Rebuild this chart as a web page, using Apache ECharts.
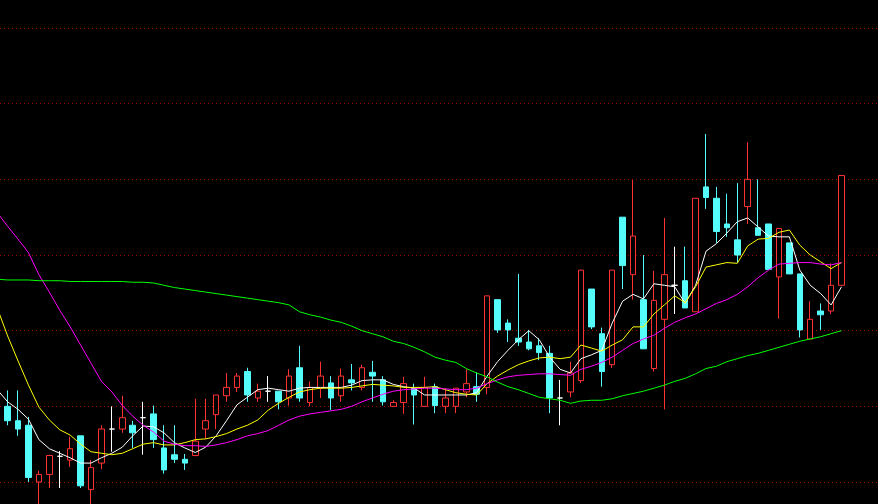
<!DOCTYPE html>
<html>
<head>
<meta charset="utf-8">
<script src="https://cdn.jsdelivr.net/npm/echarts@6/dist/echarts.min.js"></script>
<style>
html,body{margin:0;padding:0;background:#000;overflow:hidden;width:878px;height:504px;}
#chart{position:absolute;left:-8px;top:0;width:886px;height:504px;}
</style>
</head>
<body>
<div id="chart"></div>
<script>
const opens = [
23.1,20.0,18.1,17.5,10.0,11.0,13.4,12.9,16.1,9.0,
12.5,17.0,17.0,17.5,18.5,19.0,14.5,13.6,13.0,13.5,
17.0,18.9,21.4,22.5,24.6,21.1,22.0,22.0,21.1,25.1,
20.5,22.4,23.1,21.4,23.5,22.5,24.5,23.5,20.0,20.5,
22.4,20.0,22.6,20.0,20.0,21.9,22.6,22.5,34.1,31.0,
29.0,28.5,28.0,27.0,21.1,21.9,23.4,35.5,29.6,25.5,
45.0,37.4,34.1,25.0,31.5,36.0,36.6,32.5,49.0,47.5,
44.1,42.0,46.4,43.6,44.1,37.1,41.6,37.5,28.9,32.6,
32.6,36.0];
const closes = [
20.2,18.1,17.0,10.6,11.0,13.5,13.4,14.4,9.5,11.9,
17.0,17.0,18.5,16.5,18.5,15.6,11.6,13.0,12.5,15.4,
18.1,21.5,22.5,24.0,21.5,22.0,22.0,20.6,24.0,21.1,
22.5,24.0,21.1,24.0,23.1,25.1,24.0,20.6,20.5,23.0,
21.5,22.5,20.1,21.1,22.4,23.0,21.6,34.6,30.1,30.1,
28.5,27.6,27.1,21.1,21.1,24.4,38.0,30.5,24.6,38.0,
38.6,42.5,27.6,34.0,37.4,36.0,33.0,47.5,47.6,43.1,
43.6,40.0,50.0,42.6,38.1,43.5,37.5,30.1,31.5,32.1,
36.0,50.5];
const lows = [
19.5,17.5,16.1,10.0,6.8,9.2,9.2,12.0,9.2,6.8,
11.7,14.0,16.5,14.5,13.6,14.5,11.1,12.5,11.6,13.4,
15.7,17.0,20.6,21.9,20.6,20.6,20.6,19.6,20.1,20.6,
20.0,21.1,19.5,20.6,22.1,22.1,20.6,20.1,20.0,19.0,
17.6,20.0,19.1,19.1,19.1,21.2,20.6,21.6,29.7,28.5,
28.0,27.4,26.1,19.1,17.5,21.2,23.1,30.2,22.6,25.1,
35.5,34.1,27.6,24.6,19.6,32.2,33.0,32.5,46.1,41.6,
42.4,39.0,44.1,42.6,38.1,31.6,37.5,29.1,28.9,30.1,
32.2,36.0];
const highs = [
23.5,22.1,22.1,18.6,11.5,13.6,14.1,16.0,16.1,12.9,
17.5,20.0,21.4,18.1,20.6,20.1,17.5,17.5,13.7,21.0,
21.0,21.5,24.4,24.4,25.1,23.0,24.0,22.0,24.9,28.0,
23.3,25.9,24.0,25.0,25.6,25.5,26.0,24.0,20.8,23.9,
23.0,23.9,23.0,22.4,22.4,24.9,24.5,34.6,34.1,31.5,
37.5,30.1,29.0,28.0,23.5,25.9,38.0,35.5,30.4,38.0,
45.0,49.9,40.0,37.9,44.9,41.1,41.1,47.5,56.0,49.0,
48.1,49.5,54.9,50.0,44.1,43.5,41.6,37.5,33.9,33.6,
38.9,50.5];
const ma5 = [
22.2,20.6,19.6,18.3,15.6,14.4,13.8,13.2,12.5,12.5,
13.2,13.8,14.6,16.1,17.4,17.3,16.5,15.2,14.5,13.9,
14.6,16.1,18.1,20.2,21.2,22.2,22.4,22.2,22.0,22.4,
22.5,22.5,22.5,22.5,22.8,23.4,23.5,23.5,22.9,22.6,
22.4,21.5,21.5,21.5,21.5,21.5,21.8,24.0,25.9,27.4,
28.8,30.0,28.8,26.5,24.9,24.4,26.3,26.8,27.4,31.0,
33.9,34.8,34.2,36.2,36.0,35.8,33.6,36.0,40.5,41.5,
42.9,44.4,44.9,43.7,42.5,42.4,42.4,38.0,36.0,34.9,
33.4,35.8];
const ma10 = [
33.0,29.3,26.0,22.8,19.9,18.2,16.9,16.2,15.0,14.0,
13.8,13.6,13.8,14.4,15.0,15.2,14.9,14.9,15.2,15.6,
15.7,16.0,16.4,17.0,17.5,18.2,19.5,20.4,21.2,21.9,
22.2,22.4,22.4,22.4,22.5,22.7,22.9,22.8,22.7,22.5,
22.5,22.5,22.6,22.2,21.8,21.6,21.5,23.0,24.0,24.8,
25.5,26.0,26.4,26.5,26.3,26.5,28.1,27.7,27.3,28.1,
28.8,30.5,30.5,32.2,33.4,34.6,33.7,35.8,38.4,38.7,
39.0,38.9,41.2,42.1,42.2,43.0,43.3,41.3,40.0,39.1,
38.2,39.0];
const ma30 = [
45.6,43.8,42.1,40.3,37.4,35.1,32.7,30.5,28.1,25.7,
23.3,21.9,20.1,18.7,17.5,16.6,15.4,15.0,14.8,14.8,
14.7,14.9,15.2,15.6,16.1,16.4,16.8,17.5,18.2,18.7,
19.0,19.2,19.4,19.6,20.0,20.6,21.1,21.6,22.0,22.2,
22.3,22.4,22.4,22.3,22.2,22.2,22.4,23.0,23.5,23.9,
24.1,24.2,24.3,24.3,24.2,24.1,24.9,25.3,25.8,26.5,
27.4,28.3,28.9,29.4,30.3,31.1,31.7,32.2,32.9,33.6,
34.1,34.8,35.8,37.0,38.0,38.8,38.9,39.0,39.0,38.8,
38.7,39.0];
const ma60 = [
36.8,36.7,36.7,36.7,36.6,36.6,36.6,36.5,36.5,36.5,
36.5,36.5,36.5,36.4,36.4,36.3,36.0,35.7,35.5,35.3,
35.1,34.9,34.7,34.5,34.3,34.1,33.9,33.7,33.4,32.5,
32.1,31.8,31.4,31.1,30.6,30.0,29.6,29.2,28.6,28.3,
27.8,27.2,26.5,26.1,25.8,25.0,24.4,23.9,23.2,22.6,
22.2,21.7,21.2,21.0,20.8,20.4,20.7,20.8,20.8,21.0,
21.4,21.7,22.0,22.4,22.8,23.3,23.7,24.3,25.0,25.3,
25.9,26.3,26.7,27.0,27.4,27.8,28.2,28.6,28.9,29.2,
29.6,30.0];

// empty trading slots to the right of the last candle
const emptySlots = 3;
const categories = opens.map((_, i) => 'K' + (i + 1));
for (let j = 0; j < emptySlots; j++) categories.push('');
const candleData = opens.map((o, i) => [o, closes[i], lows[i], highs[i]]);

const RED = '#FF3232';
const CYAN = '#54FCFC';

const chart = echarts.init(document.getElementById('chart'), null, {renderer: 'canvas'});

function maSeries(name, data, color) {
  return {
    name: name,
    type: 'line',
    data: data,
    symbol: 'none',
    smooth: false,
    clip: false,
    silent: true,
    lineStyle: {color: color, width: 1},
    z: 3
  };
}

chart.setOption({
  backgroundColor: '#000000',
  animation: false,
  grid: {left: 0, right: 0, top: 28, bottom: 22, containLabel: false},
  xAxis: {
    type: 'category',
    data: categories,
    boundaryGap: true,
    axisLine: {show: false},
    axisTick: {show: false},
    axisLabel: {show: false},
    splitLine: {show: false}
  },
  yAxis: {
    type: 'value',
    min: 10,
    max: 70,
    interval: 10,
    axisLine: {show: false},
    axisTick: {show: false},
    axisLabel: {show: false},
    splitLine: {show: true, lineStyle: {color: '#A00000', width: 1, type: [1, 3]}}
  },
  series: [
    {
      name: 'K',
      type: 'candlestick',
      data: candleData,
      barWidth: 6,
      clip: false,
      silent: true,
      itemStyle: {
        color: '#000000',
        color0: CYAN,
        borderColor: RED,
        borderColor0: CYAN,
        borderColorDoji: '#FFFFFF',
        borderWidth: 1
      },
      z: 2
    },
    maSeries('MA5', ma5, '#FFFFFF'),
    maSeries('MA10', ma10, '#FFFF00'),
    maSeries('MA30', ma30, '#FF00FF'),
    maSeries('MA60', ma60, '#00FF00')
  ]
});
</script>
</body>
</html>
